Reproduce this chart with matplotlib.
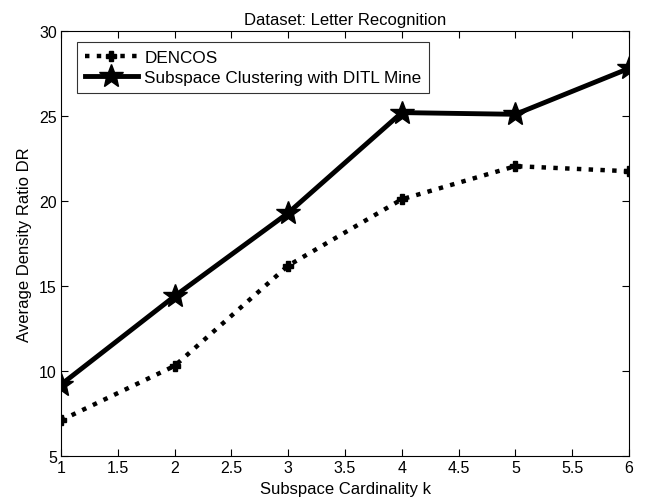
import numpy as np
import matplotlib
matplotlib.use('Agg')
import matplotlib.pyplot as plt

plt.rcParams['font.family'] = ['Liberation Sans', 'DejaVu Sans']

# subspace cardinality k
k = [1, 2, 3, 4, 5, 6]
dencos = [7.1, 10.3, 16.2, 20.1, 22.05, 21.75]
ditl   = [9.2, 14.4, 19.3, 25.2, 25.1, 27.8]

fig = plt.figure(figsize=(6.49, 5.02), dpi=100)
ax = fig.add_axes([61/649, 1-457/502, (629-61)/649, (457-32)/502])

ax.plot(k, dencos, color='black', linestyle=':', linewidth=3.2,
        marker='P', markersize=7, label='DENCOS')
ax.plot(k, ditl, color='black', linestyle='-', linewidth=3.5,
        marker='*', markersize=18, label='Subspace Clustering with DITL Mine')

ax.set_xlim(1, 6)
ax.set_ylim(5, 30)
ax.set_xticks(np.arange(1, 6.01, 0.5))
ax.set_xticklabels(['1', '1.5', '2', '2.5', '3', '3.5', '4', '4.5', '5', '5.5', '6'])
ax.set_yticks([5, 10, 15, 20, 25, 30])
ax.tick_params(direction='in', top=True, right=True, labelsize=11.5, length=5, width=0.8, pad=3)
for s in ax.spines.values():
    s.set_linewidth(0.8)

ax.set_xlabel('Subspace Cardinality k', fontsize=12, labelpad=4)
ax.set_ylabel('Average Density Ratio DR', fontsize=12, labelpad=5)
ax.set_title('Dataset: Letter Recognition', fontsize=12, pad=5)

leg = ax.legend(loc='upper left', bbox_to_anchor=(16/568, 1-11/425), fontsize=12.3,
                frameon=True, fancybox=False, edgecolor='black', handlelength=3.1,
                borderpad=0.45, labelspacing=0.3, handletextpad=0.4, borderaxespad=0)
leg.get_frame().set_linewidth(0.8)

fig.savefig('out.png', dpi=100)
